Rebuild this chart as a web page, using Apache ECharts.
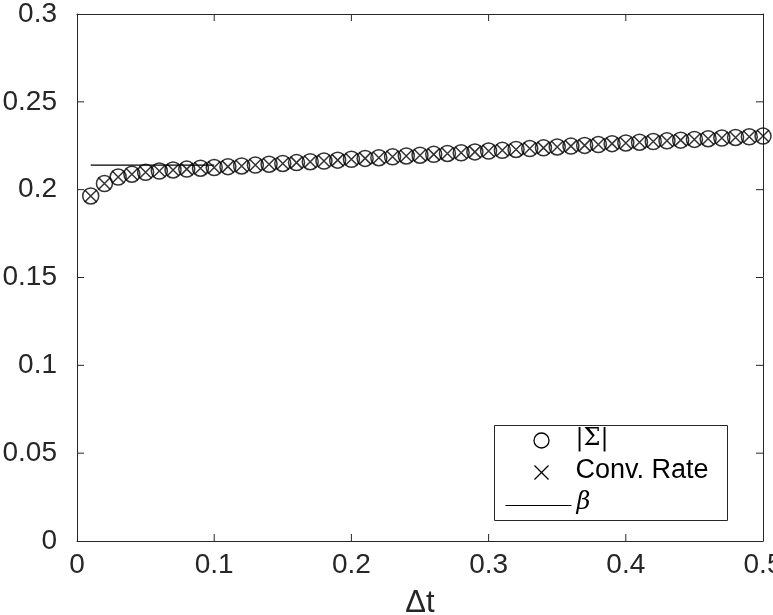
<!DOCTYPE html>
<html>
<head>
<meta charset="utf-8">
<script src="https://cdn.jsdelivr.net/npm/echarts@6/dist/echarts.min.js"></script>
<style>
  html, body { margin: 0; padding: 0; background: #fff; }
  #main { width: 773px; height: 615px; }
</style>
</head>
<body>
<div id="main"></div>
<script>
// step sizes and measured values
var dt = [0.01, 0.02, 0.03, 0.04, 0.05, 0.06, 0.07, 0.08, 0.09, 0.10,
          0.11, 0.12, 0.13, 0.14, 0.15, 0.16, 0.17, 0.18, 0.19, 0.20,
          0.21, 0.22, 0.23, 0.24, 0.25, 0.26, 0.27, 0.28, 0.29, 0.30,
          0.31, 0.32, 0.33, 0.34, 0.35, 0.36, 0.37, 0.38, 0.39, 0.40,
          0.41, 0.42, 0.43, 0.44, 0.45, 0.46, 0.47, 0.48, 0.49, 0.50];
var sigmaAbs = [0.1964, 0.2035, 0.2072, 0.2088, 0.2099, 0.2106, 0.2112, 0.2117, 0.2122, 0.2126,
                0.2131, 0.2135, 0.2140, 0.2145, 0.2149, 0.2154, 0.2159, 0.2163, 0.2168, 0.2173,
                0.2178, 0.2182, 0.2187, 0.2192, 0.2196, 0.2201, 0.2206, 0.2210, 0.2215, 0.2220,
                0.2224, 0.2229, 0.2234, 0.2238, 0.2243, 0.2248, 0.2252, 0.2257, 0.2262, 0.2266,
                0.2270, 0.2274, 0.2278, 0.2282, 0.2286, 0.2290, 0.2294, 0.2297, 0.2301, 0.2305];
var convRate = [0.1964, 0.2035, 0.2072, 0.2088, 0.2099, 0.2106, 0.2112, 0.2117, 0.2122, 0.2126,
                0.2131, 0.2135, 0.2140, 0.2145, 0.2149, 0.2154, 0.2159, 0.2163, 0.2168, 0.2173,
                0.2178, 0.2182, 0.2187, 0.2192, 0.2196, 0.2201, 0.2206, 0.2210, 0.2215, 0.2220,
                0.2224, 0.2229, 0.2234, 0.2238, 0.2243, 0.2248, 0.2252, 0.2257, 0.2262, 0.2266,
                0.2270, 0.2274, 0.2278, 0.2282, 0.2286, 0.2290, 0.2294, 0.2297, 0.2301, 0.2305];
var betaX = [0.01, 0.1];
var betaY = [0.214, 0.214];

var xTicks = [0.1, 0.2, 0.3, 0.4];
var yTicks = [0.05, 0.1, 0.15, 0.2, 0.25];

var axisColor = '#262626';
var font = 'Liberation Sans, Arial, Helvetica, sans-serif';
var crossPath = 'path://M0,0L10,10M10,0L0,10';
var tickLen = 7;

function pairs(xs, ys) {
    return xs.map(function (x, i) { return [x, ys[i]]; });
}

var myChart = echarts.init(document.getElementById('main'));

// top / right axes only close the box, MATLAB style
var frameAxis = {
    min: 0, show: true,
    axisLine: { show: true, onZero: false, lineStyle: { color: axisColor, width: 1 } },
    axisTick: { show: false },
    axisLabel: { show: false },
    splitLine: { show: false }
};

// inward ticks on all four sides of the box
function tickLine(p1, p2) {
    return { type: 'line', shape: { x1: p1[0], y1: p1[1], x2: p2[0], y2: p2[1] },
             style: { stroke: axisColor, lineWidth: 1 } };
}
function renderXTick(params, api) {
    var v = api.value(0);
    var b = api.coord([v, 0]);
    var t = api.coord([v, 0.3]);
    return { type: 'group', children: [
        tickLine([b[0], b[1]], [b[0], b[1] - tickLen]),
        tickLine([t[0], t[1]], [t[0], t[1] + tickLen])
    ] };
}
function renderYTick(params, api) {
    var v = api.value(1);
    var l = api.coord([0, v]);
    var r = api.coord([0.5, v]);
    return { type: 'group', children: [
        tickLine([l[0], l[1]], [l[0] + tickLen, l[1]]),
        tickLine([r[0], r[1]], [r[0] - tickLen, r[1]])
    ] };
}

var option = {
    animation: false,
    backgroundColor: '#fff',
    grid: { left: 77, right: 10, top: 14, bottom: 74, containLabel: false, outerBoundsMode: 'none' },
    xAxis: [
        {
            type: 'value', min: 0, max: 0.5, interval: 0.1, position: 'bottom',
            name: 'Δt', nameLocation: 'middle', nameGap: 47,
            nameTextStyle: { fontFamily: font, fontSize: 31, color: axisColor },
            axisLine: { show: true, onZero: false, lineStyle: { color: axisColor, width: 1 } },
            axisTick: { show: false },
            axisLabel: { fontFamily: font, fontSize: 28, color: axisColor, margin: 10 },
            splitLine: { show: false }
        },
        Object.assign({}, frameAxis, { type: 'value', max: 0.5, interval: 0.1, position: 'top' })
    ],
    yAxis: [
        {
            type: 'value', min: 0, max: 0.3, interval: 0.05, position: 'left',
            axisLine: { show: true, onZero: false, lineStyle: { color: axisColor, width: 1 } },
            axisTick: { show: false },
            axisLabel: { fontFamily: font, fontSize: 28, color: axisColor, margin: 20 },
            splitLine: { show: false }
        },
        Object.assign({}, frameAxis, { type: 'value', max: 0.3, interval: 0.05, position: 'right' })
    ],
    series: [
        {
            type: 'custom', name: 'xticks', silent: true, clip: false,
            data: xTicks.map(function (v) { return [v, 0]; }),
            renderItem: renderXTick, z: 1
        },
        {
            type: 'custom', name: 'yticks', silent: true, clip: false,
            data: yTicks.map(function (v) { return [0, v]; }),
            renderItem: renderYTick, z: 1
        },
        {
            name: '|Σ|', type: 'scatter',
            data: pairs(dt, sigmaAbs),
            symbol: 'circle', symbolSize: 16,
            itemStyle: { color: 'rgba(0,0,0,0)', borderColor: '#000', borderWidth: 1.5 },
            z: 3
        },
        {
            name: 'Conv. Rate', type: 'scatter',
            data: pairs(dt, convRate),
            symbol: crossPath, symbolSize: 12,
            itemStyle: { color: 'rgba(0,0,0,0)', borderColor: '#000', borderWidth: 1.5 },
            z: 4
        },
        {
            name: 'β', type: 'line',
            data: pairs(betaX, betaY),
            symbol: 'none',
            lineStyle: { color: '#000', width: 1.2 },
            z: 2
        }
    ],
    graphic: [
        {
            type: 'group', left: 494, top: 425,
            children: [
                { type: 'rect', shape: { x: 0, y: 0, width: 233, height: 95 },
                  style: { fill: '#fff', stroke: axisColor, lineWidth: 1 } },
                { type: 'circle', shape: { cx: 47, cy: 15, r: 7.5 },
                  style: { fill: 'none', stroke: '#000', lineWidth: 1.3 } },
                { type: 'text', left: 81, top: 1,
                  style: { text: '|Σ|', fontFamily: 'DejaVu Serif, serif', fontSize: 24, fill: '#000' } },
                { type: 'polyline', shape: { points: [[40, 40], [54, 54]] },
                  style: { stroke: '#000', lineWidth: 1.3 } },
                { type: 'polyline', shape: { points: [[54, 40], [40, 54]] },
                  style: { stroke: '#000', lineWidth: 1.3 } },
                { type: 'text', left: 81, top: 32,
                  style: { text: 'Conv. Rate', fontFamily: font, fontSize: 27, fill: '#000' } },
                { type: 'line', shape: { x1: 11, y1: 80, x2: 77, y2: 80 },
                  style: { stroke: '#000', lineWidth: 1.2 } },
                { type: 'text', left: 82, top: 65,
                  style: { text: 'β', fontFamily: 'DejaVu Serif, serif', fontStyle: 'italic', fontSize: 24, fill: '#000' } }
            ]
        }
    ]
};

myChart.setOption(option);
</script>
</body>
</html>
